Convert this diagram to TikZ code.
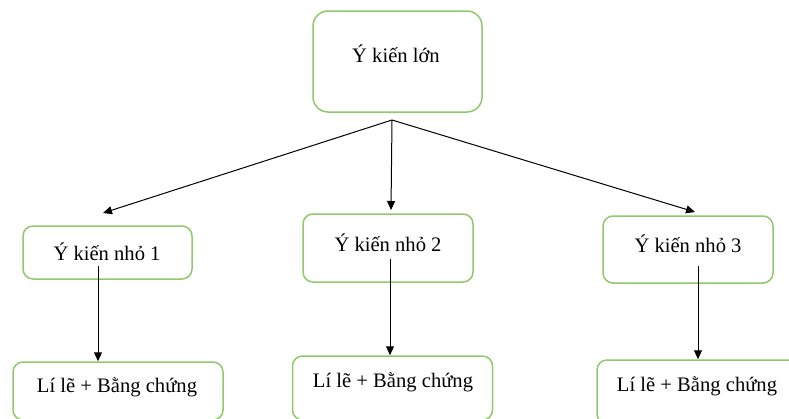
\documentclass[tikz,border=0pt]{standalone}
\usepackage{fontspec}
\setmainfont{Liberation Serif}
\usetikzlibrary{arrows.meta}
\definecolor{boxgreen}{RGB}{146,200,108}
\tikzset{
  box/.style={draw=boxgreen, line width=1.5pt, rounded corners=10pt, inner sep=0pt},
  bigbox/.style={box, rounded corners=15pt},
  lbl/.style={font=\fontsize{20.6}{24}\selectfont, inner sep=0pt, anchor=center},
  arr/.style={draw=black, line width=1pt, -{Triangle[length=9pt,width=8pt]}}
}
\begin{document}
\begin{tikzpicture}[x=1pt,y=-1pt]
\useasboundingbox (0,0) rectangle (789,418);
\clip (0,0) rectangle (789,418);
\fill[white] (0,0) rectangle (789,418);
% boxes
\node[bigbox, minimum width=169pt, minimum height=101pt] (top) at (397.5,61.5) {};
\node[box, minimum width=169pt, minimum height=53pt] (b1) at (107.5,252.5) {};
\node[box, minimum width=170pt, minimum height=68pt] (b2) at (388,248) {};
\node[box, minimum width=170pt, minimum height=67pt] (b3) at (688,249.5) {};
\node[box, minimum width=210pt, minimum height=58pt] (c1) at (118,391) {};
\node[box, minimum width=200pt, minimum height=64pt] (c2) at (392.5,388) {};
\node[box, minimum width=215pt, minimum height=64pt] (c3) at (704.5,392) {};
% texts
\node[lbl] (t0) at (396,54) {Ý kiến lớn};
\node[lbl] (t1) at (107,252) {Ý kiến nhỏ 1};
\node[lbl] (t2) at (388,243) {Ý kiến nhỏ 2};
\node[lbl] (t3) at (688,244) {Ý kiến nhỏ 3};
\node[lbl] (u1) at (117,387) {Lí lẽ + Bằng chứng};
\node[lbl] (u2) at (393,382) {Lí lẽ + Bằng chứng};
\node[lbl] (u3) at (697,386) {Lí lẽ + Bằng chứng};
% connector points
\coordinate (hub) at (392,120);
\coordinate (e1) at (103,213);
\coordinate (e2) at (391,210);
\coordinate (e3) at (695,212);
\coordinate (s1) at (98,266);
\coordinate (s2) at (390,259);
\coordinate (s3) at (698,266);
% arrows
\draw[arr] (hub) -- (e1);
\draw[arr] (hub) -- (e2);
\draw[arr] (hub) -- (e3);
\draw[arr] (s1) -- (s1 |- c1.north);
\draw[arr] (s2) -- (s2 |- c2.north);
\draw[arr] (s3) -- (s3 |- c3.north);
\end{tikzpicture}
\end{document}
